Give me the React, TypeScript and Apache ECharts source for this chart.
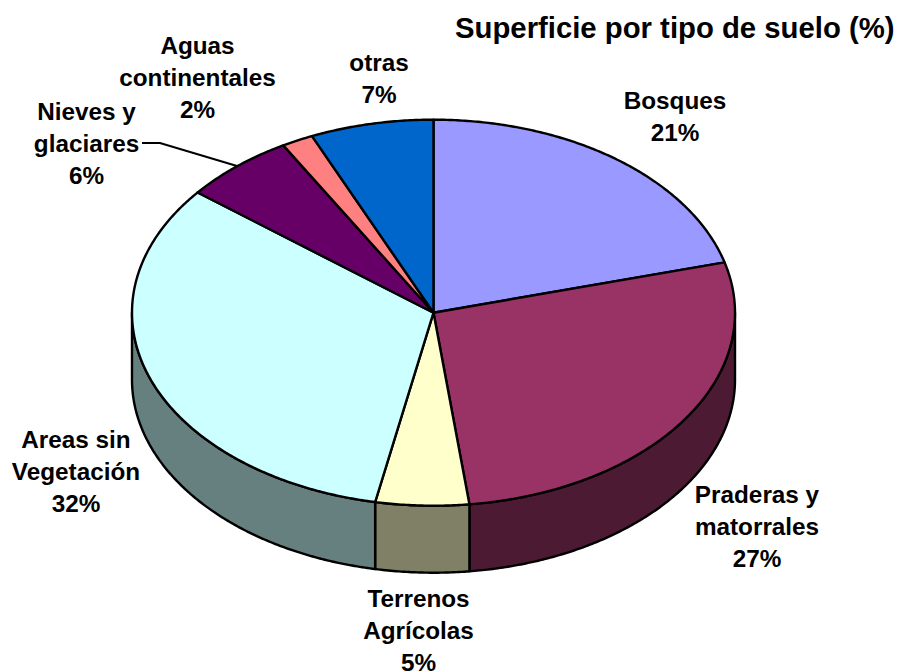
import React, { useEffect, useRef } from "react";
import * as echarts from "echarts";

const categories = ["Bosques", "Praderas y matorrales", "Terrenos Agrícolas", "Areas sin Vegetación", "Nieves y glaciares", "Aguas continentales", "otras"];
const sliceValues = [20.8, 27.3, 5, 32.6, 6, 1.7, 6.6];
const labelTexts = ["Bosques\n21%", "Praderas y\nmatorrales\n27%", "Terrenos\nAgrícolas\n5%", "Areas sin\nVegetación\n32%", "Nieves y\nglaciares\n6%", "Aguas\ncontinentales\n2%", "otras\n7%"];
const topColors = ["#9999FF", "#993366", "#FFFFCC", "#CCFFFF", "#660066", "#FF8080", "#0066CC"];
const sideColors = ["#4D4D80", "#4D1A33", "#808066", "#668080", "#330033", "#804040", "#003366"];
const labelCenters = [[675, 116], [757, 526], [418.5, 630], [76, 471], [86.5, 143], [197.5, 77], [379, 78]];
const chartTitle = "Superficie por tipo de suelo (%)";

const CX = 433.5, CY = 312.7, RX = 301.5, RY = 193, DEPTH = 67;
const FONT = "'Liberation Sans', Arial, sans-serif";
const total = sliceValues.reduce((a, b) => a + b, 0);
const cumulative = sliceValues.reduce<number[]>((acc, v) => { acc.push(acc[acc.length - 1] + v); return acc; }, [0]);
const toAngle = (v: number) => (v / total) * Math.PI * 2;
const pt = (a: number, dy = 0): number[] => [CX + RX * Math.sin(a), CY - RY * Math.cos(a) + dy];

function arc(a0: number, a1: number, dy = 0): number[][] {
  const n = Math.max(2, Math.ceil((a1 - a0) / (Math.PI / 360)));
  const out: number[][] = [];
  for (let i = 0; i <= n; i++) out.push(pt(a0 + ((a1 - a0) * i) / n, dy));
  return out;
}

const stroke = { stroke: "#000", lineWidth: 2.4, lineJoin: "round" };

function renderTop(params: any, api: any) {
  const i = params.dataIndex;
  const a0 = toAngle(cumulative[i]);
  const a1 = a0 + toAngle(api.value(0));
  return {
    type: "polygon",
    shape: { points: [[CX, CY], ...arc(a0, a1)] },
    style: { fill: topColors[i], ...stroke },
  };
}

function renderSide(params: any, api: any) {
  const i = params.dataIndex;
  const a0 = Math.max(toAngle(cumulative[i]), Math.PI / 2);
  const a1 = Math.min(toAngle(cumulative[i]) + toAngle(api.value(0)), (Math.PI * 3) / 2);
  if (a1 <= a0) return { type: "group", children: [] };
  return {
    type: "polygon",
    shape: { points: [...arc(a0, a1), ...arc(a0, a1, DEPTH).reverse()] },
    style: { fill: sideColors[i], ...stroke },
  };
}

export default function App() {
  const ref = useRef<HTMLDivElement>(null);
  useEffect(() => {
    const chart = echarts.init(ref.current!, undefined, { renderer: "svg" });
    const data = categories.map((name, i) => ({ name, value: [sliceValues[i]] }));
    chart.setOption({
      animation: false,
      backgroundColor: "#fff",
      title: {
        text: chartTitle,
        left: 450,
        top: 8,
        textStyle: { fontFamily: FONT, fontWeight: "bold", fontSize: 29.3, color: "#000" },
      },
      series: [
        { type: "custom", coordinateSystem: "none", silent: true, z: 1, renderItem: renderSide, data },
        { type: "custom", coordinateSystem: "none", silent: true, z: 2, renderItem: renderTop, data },
      ],
      graphic: [
        {
          type: "polyline",
          z: 5,
          shape: { points: [[142, 143], [160, 143], [237, 166]] },
          style: { stroke: "#000", lineWidth: 2.2, fill: "none" },
        },
        ...labelTexts.map((text, i) => ({
          type: "text",
          z: 6,
          x: labelCenters[i][0],
          y: labelCenters[i][1],
          style: {
            text,
            fill: "#000",
            font: `bold 24.3px ${FONT}`,
            lineHeight: 32,
            align: "center",
            verticalAlign: "middle",
          },
        })),
      ],
    });
    return () => chart.dispose();
  }, []);
  return <div ref={ref} style={{ position: "fixed", left: 0, top: 0, width: 899, height: 672 }} />;
}
